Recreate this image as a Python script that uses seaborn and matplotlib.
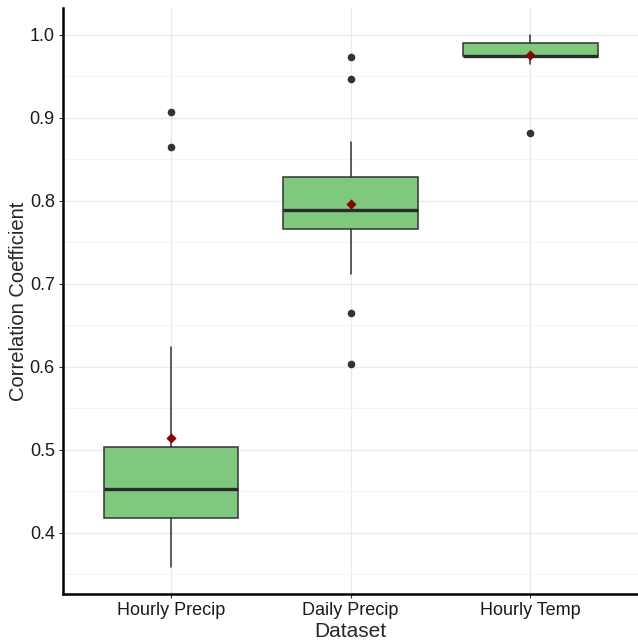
import pandas as pd
import seaborn as sns
import matplotlib.pyplot as plt

# values
datasets = ["Hourly Precip", "Daily Precip", "Hourly Temp"]
q1 = [0.417, 0.766, 0.9738]
median = [0.453, 0.788, 0.9745]
q3 = [0.5036, 0.828, 0.9895]
whisker_low = [0.358, 0.712, 0.965]
whisker_high = [0.624, 0.871, 1.0]
means = [0.514, 0.796, 0.975]
outlier_dataset = ["Hourly Precip", "Hourly Precip", "Daily Precip", "Daily Precip",
                   "Daily Precip", "Daily Precip", "Hourly Temp"]
outlier_value = [0.907, 0.864, 0.973, 0.946, 0.665, 0.603, 0.881]

BOX_GREEN = "#7FC97F"

sns.set_theme(style="whitegrid")
plt.rcParams["font.family"] = ["Liberation Sans", "DejaVu Sans"]

fig = plt.figure(figsize=(6.38, 6.40), dpi=100)
ax = fig.add_axes([0.099, 0.072, 0.901, 0.9155])

stats = []
for i, name in enumerate(datasets):
    stats.append({"label": name, "q1": q1[i], "med": median[i], "q3": q3[i],
                  "whislo": whisker_low[i], "whishi": whisker_high[i], "fliers": []})

ax.bxp(stats, positions=range(len(datasets)), widths=0.75, patch_artist=True,
       showfliers=False, showcaps=False,
       boxprops=dict(facecolor=BOX_GREEN, edgecolor="#333333", linewidth=1.1),
       medianprops=dict(color="#2b2b2b", linewidth=2.4),
       whiskerprops=dict(color="#333333", linewidth=1.1),
       zorder=2)

out_df = pd.DataFrame({"Dataset": outlier_dataset, "value": outlier_value})
mean_df = pd.DataFrame({"Dataset": datasets, "value": means})

sns.stripplot(data=out_df, x="Dataset", y="value", order=datasets, jitter=False,
              color="#333333", size=5.5, linewidth=0, ax=ax, zorder=3)
sns.stripplot(data=mean_df, x="Dataset", y="value", order=datasets, jitter=False,
              color="#8B0000", marker="D", size=5.2, linewidth=0, ax=ax, zorder=4)

ax.set_xlim(-0.6, 2.6)
ax.set_ylim(0.326, 1.032)
ax.set_yticks([0.4, 0.5, 0.6, 0.7, 0.8, 0.9, 1.0])
ax.set_yticks([0.35, 0.45, 0.55, 0.65, 0.75, 0.85, 0.95], minor=True)
ax.set_xticks(range(len(datasets)))
ax.set_xticklabels(datasets)

ax.grid(which="major", color="#EBEBEB", linewidth=1.0)
ax.grid(which="minor", axis="y", color="#F4F4F4", linewidth=0.8)
ax.set_axisbelow(True)
ax.set_facecolor("white")

for side in ["top", "right"]:
    ax.spines[side].set_visible(False)
for side in ["left", "bottom"]:
    ax.spines[side].set_color("black")
    ax.spines[side].set_linewidth(1.8)

ax.tick_params(axis="both", which="major", length=3, width=0.8, color="#333333",
               labelsize=13, labelcolor="#1a1a1a", pad=3, left=True, bottom=True)
ax.tick_params(axis="y", which="minor", length=0)

ax.set_xlabel("Dataset", fontsize=15, labelpad=2)
ax.set_ylabel("Correlation Coefficient", fontsize=14.5)
ax.yaxis.set_label_coords(-0.062, 0.5)

fig.savefig("out.png", dpi=100)
